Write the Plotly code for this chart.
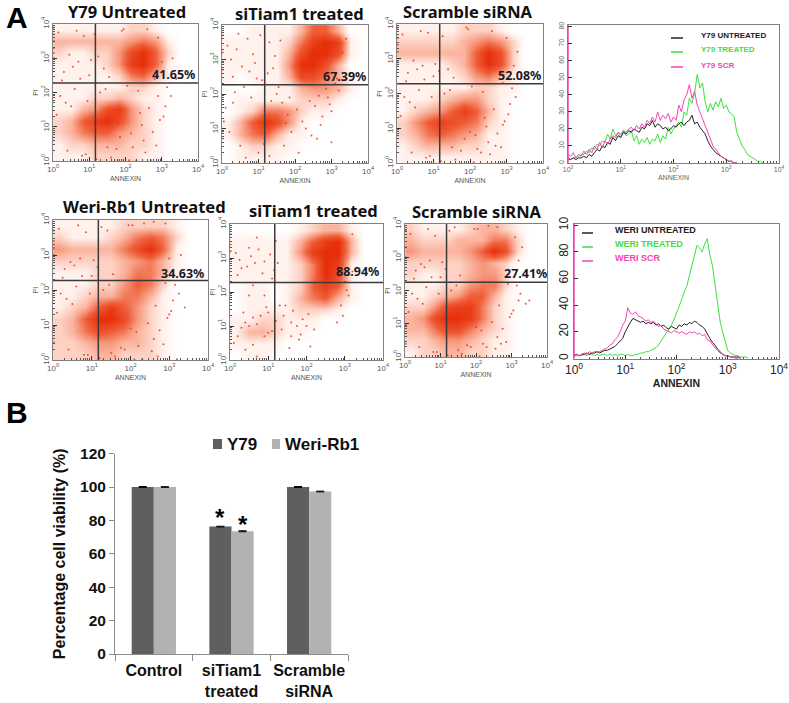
import math
import plotly.graph_objects as go

W, H = 789, 703

# density, rows top (PI 10^4) to bottom (PI 10^0), columns 1/3 decade wide
grid_centres = [0.17, 0.5, 0.83, 1.17, 1.5, 1.83, 2.17, 2.5, 2.83, 3.17, 3.5, 3.83]

y79_untreated = [
    [1, 1, 1, 1, 1, 1, 2, 2, 1, 0, 0, 0],
    [3, 3, 3, 3, 3, 3, 4, 5, 4, 1, 0, 0],
    [2, 1, 1, 2, 2, 4, 7, 9, 6, 2, 0, 0],
    [1, 1, 1, 1, 2, 4, 8, 9, 6, 1, 0, 0],
    [1, 1, 1, 1, 1, 2, 5, 6, 3, 1, 0, 0],
    [1, 1, 1, 1, 1, 1, 2, 2, 1, 0, 0, 0],
    [1, 1, 1, 2, 2, 3, 2, 1, 1, 0, 0, 0],
    [1, 1, 3, 4, 7, 8, 4, 2, 1, 0, 0, 0],
    [2, 3, 6, 8, 9, 7, 4, 2, 1, 0, 0, 0],
    [2, 3, 5, 6, 6, 4, 3, 2, 1, 0, 0, 0],
    [1, 2, 2, 3, 3, 3, 2, 2, 1, 0, 0, 0],
    [1, 1, 1, 2, 2, 2, 2, 1, 1, 0, 0, 0],
]
y79_sitiam = [
    [0, 0, 1, 1, 1, 1, 3, 6, 6, 3, 0, 0],
    [1, 1, 1, 1, 1, 2, 5, 8, 9, 8, 1, 0],
    [1, 1, 1, 1, 1, 3, 7, 9, 9, 7, 1, 0],
    [1, 1, 1, 1, 1, 4, 9, 9, 7, 3, 0, 0],
    [1, 0, 1, 1, 1, 3, 7, 7, 5, 3, 1, 0],
    [0, 0, 0, 1, 1, 1, 3, 4, 4, 3, 1, 0],
    [0, 1, 1, 1, 1, 1, 2, 2, 2, 1, 0, 0],
    [0, 1, 2, 5, 5, 4, 2, 1, 1, 0, 0, 0],
    [1, 3, 6, 9, 7, 4, 1, 0, 0, 0, 0, 0],
    [1, 3, 5, 6, 3, 1, 1, 0, 0, 0, 0, 0],
    [0, 1, 2, 2, 1, 1, 0, 0, 0, 0, 0, 0],
    [0, 1, 1, 1, 1, 0, 0, 0, 0, 0, 0, 0],
]
y79_scramble = [
    [1, 1, 1, 1, 1, 2, 2, 2, 1, 0, 0, 0],
    [2, 2, 2, 2, 2, 3, 4, 5, 4, 2, 0, 0],
    [3, 3, 3, 3, 3, 3, 6, 9, 7, 2, 0, 0],
    [1, 1, 1, 1, 2, 3, 6, 9, 7, 2, 0, 0],
    [1, 1, 1, 1, 1, 2, 4, 5, 3, 1, 0, 0],
    [1, 1, 1, 1, 1, 1, 2, 2, 1, 1, 0, 0],
    [1, 1, 1, 2, 3, 4, 4, 2, 1, 0, 0, 0],
    [1, 2, 3, 4, 6, 8, 6, 3, 1, 0, 0, 0],
    [2, 4, 6, 8, 7, 6, 5, 2, 1, 0, 0, 0],
    [2, 3, 5, 6, 5, 4, 3, 1, 1, 0, 0, 0],
    [1, 2, 3, 3, 3, 2, 2, 1, 1, 0, 0, 0],
    [1, 1, 1, 1, 1, 1, 1, 1, 1, 0, 0, 0],
]
weri_untreated = [
    [1, 1, 1, 1, 1, 2, 2, 2, 2, 1, 0, 0],
    [2, 1, 1, 1, 2, 3, 5, 6, 5, 2, 0, 0],
    [4, 3, 3, 3, 3, 5, 7, 9, 6, 1, 0, 0],
    [2, 2, 2, 2, 2, 3, 4, 5, 3, 1, 0, 0],
    [1, 1, 1, 2, 2, 3, 5, 5, 3, 1, 0, 0],
    [1, 1, 1, 2, 2, 4, 6, 5, 2, 0, 0, 0],
    [1, 1, 2, 3, 3, 5, 5, 3, 1, 0, 0, 0],
    [1, 2, 3, 6, 8, 6, 4, 2, 1, 0, 0, 0],
    [2, 3, 6, 9, 9, 7, 4, 2, 1, 0, 0, 0],
    [2, 3, 5, 7, 6, 5, 3, 2, 1, 0, 0, 0],
    [2, 2, 3, 4, 4, 3, 3, 2, 1, 0, 0, 0],
    [2, 2, 2, 3, 3, 2, 2, 2, 1, 0, 0, 0],
]
weri_sitiam = [
    [0, 0, 0, 0, 0, 1, 2, 3, 3, 1, 0, 0],
    [1, 1, 1, 1, 1, 3, 6, 8, 9, 3, 0, 0],
    [1, 1, 1, 1, 1, 4, 8, 9, 9, 3, 0, 0],
    [1, 1, 1, 1, 1, 2, 5, 9, 8, 1, 0, 0],
    [1, 1, 1, 1, 1, 2, 5, 9, 7, 1, 0, 0],
    [0, 1, 1, 0, 1, 2, 6, 8, 6, 1, 0, 0],
    [0, 1, 1, 0, 1, 3, 5, 6, 3, 1, 0, 0],
    [0, 1, 1, 1, 1, 2, 2, 2, 1, 0, 0, 0],
    [1, 1, 2, 2, 1, 1, 1, 0, 0, 0, 0, 0],
    [1, 3, 3, 2, 1, 1, 0, 0, 0, 0, 0, 0],
    [1, 1, 1, 1, 0, 0, 0, 0, 0, 0, 0, 0],
    [0, 1, 1, 0, 0, 0, 0, 0, 0, 0, 0, 0],
]
weri_scramble = [
    [2, 1, 1, 1, 1, 2, 3, 3, 2, 1, 0, 0],
    [3, 2, 2, 2, 3, 3, 3, 5, 5, 2, 0, 0],
    [4, 3, 3, 3, 3, 4, 6, 9, 7, 2, 0, 0],
    [2, 2, 2, 2, 2, 3, 4, 3, 2, 0, 0, 0],
    [2, 1, 1, 2, 2, 3, 4, 4, 2, 0, 0, 0],
    [1, 1, 1, 2, 2, 4, 5, 5, 2, 0, 0, 0],
    [1, 1, 2, 3, 4, 6, 6, 3, 1, 0, 0, 0],
    [2, 2, 4, 7, 8, 8, 5, 2, 1, 0, 0, 0],
    [3, 4, 7, 9, 9, 8, 5, 2, 1, 0, 0, 0],
    [3, 3, 5, 7, 7, 5, 3, 2, 1, 0, 0, 0],
    [2, 2, 3, 4, 4, 3, 2, 1, 1, 0, 0, 0],
    [1, 2, 2, 3, 3, 2, 2, 1, 1, 0, 0, 0],
]

# stray events, decades of annexin / PI
p1_dots_x = [0.02, 0.02, 0.02, 0.02, 0.02, 0.02, 0.3, 0.7, 1.0, 1.4, 1.9, 2.9, 3.0, 3.3, 2.8, 2.6, 0.4, 0.9, 1.6, 2.3, 2.1, 2.7, 0.2, 0.6, 1.3, 1.8, 2.4, 2.9, 3.1, 2.5, 2.2, 3.4,
             0.15, 0.45, 0.55, 0.85, 1.05, 1.25, 1.55, 0.25, 0.65, 0.75, 1.15, 0.35, 0.95, 1.45, 2.05, 2.35, 2.65, 3.05, 3.15, 2.75, 2.55, 1.75, 0.1, 0.5, 0.8, 1.2, 1.5, 1.85, 2.15, 2.45, 2.85, 3.25, 2.95, 1.95]
p1_dots_y = [3.9, 3.7, 3.5, 3.3, 3.15, 3.0, 2.6, 2.9, 2.5, 2.7, 3.8, 3.6, 2.9, 3.0, 2.4, 3.85, 0.3, 0.2, 0.1, 0.02, 0.02, 0.02, 1.9, 2.1, 2.0, 1.1, 1.4, 1.9, 1.6, 0.6, 0.4, 2.4,
             3.75, 3.1, 2.75, 3.65, 2.95, 3.05, 2.45, 2.35, 3.8, 2.4, 3.7, 1.7, 1.75, 2.1, 2.2, 2.05, 1.55, 1.3, 2.15, 0.85, 0.25, 0.35, 1.35, 1.6, 0.15, 0.05, 0.4, 0.7, 0.8, 1.05, 0.45, 1.9, 1.2, 3.85]
p2_dots_x = [0.02, 0.02, 0.02, 0.4, 0.7, 0.9, 1.3, 0.3, 0.6, 1.1, 1.5, 3.3, 3.5, 3.1, 2.9, 3.0, 2.7, 2.2, 1.9, 3.0, 2.6, 1.7, 0.2, 0.5, 1.0, 1.3, 2.4, 3.4, 1.8, 2.1,
             0.15, 0.25, 0.55, 0.85, 1.05, 1.25, 1.45, 0.35, 0.75, 0.95, 1.4, 0.45, 1.6, 1.65, 2.55, 2.75, 2.95, 3.2, 1.55, 2.05, 2.3, 0.1, 0.65, 1.15, 1.35, 1.85, 2.65, 2.85, 1.75, 3.15, 0.05, 2.45, 0.3, 0.8]
p2_dots_y = [3.7, 3.2, 2.7, 3.3, 3.6, 2.9, 3.5, 2.5, 2.2, 2.4, 2.0, 3.2, 2.6, 2.3, 1.9, 1.5, 1.1, 1.2, 0.9, 0.6, 0.7, 0.5, 0.9, 0.5, 0.3, 0.2, 1.8, 3.6, 1.4, 0.3,
             3.4, 3.0, 2.8, 3.15, 3.7, 2.6, 3.1, 2.05, 2.65, 2.45, 2.75, 3.75, 3.55, 1.75, 1.65, 1.35, 1.7, 2.1, 2.2, 1.55, 1.0, 1.6, 0.15, 0.55, 1.8, 1.9, 1.95, 2.15, 1.15, 2.45, 1.2, 0.8, 1.75, 1.9]
p3_dots_x = [0.02, 0.02, 0.02, 0.02, 0.02, 0.3, 0.7, 1.0, 1.4, 1.9, 3.0, 3.2, 3.3, 2.9, 2.6, 0.4, 0.9, 1.6, 2.3, 2.1, 2.7, 0.2, 0.6, 1.3, 2.9, 2.4, 3.1, 2.5, 2.2, 3.4, 2.0,
             0.15, 0.45, 0.55, 0.85, 1.05, 1.25, 1.55, 0.25, 0.65, 0.75, 1.15, 0.35, 0.95, 1.45, 2.05, 2.35, 2.65, 3.05, 3.15, 2.75, 2.55, 1.75, 0.1, 0.5, 0.8, 1.2, 1.5, 1.85, 2.15, 2.45, 2.85, 3.25, 2.95, 1.95]
p3_dots_y = [3.9, 3.6, 3.4, 3.2, 2.9, 2.6, 2.8, 2.5, 2.7, 3.9, 3.6, 2.8, 3.2, 2.3, 3.8, 0.3, 0.2, 0.1, 0.3, 0.02, 0.5, 1.9, 2.1, 2.0, 1.1, 1.3, 1.7, 0.6, 0.4, 2.5, 0.9,
             3.7, 2.95, 2.7, 3.75, 2.85, 3.65, 2.45, 2.35, 3.8, 2.4, 2.65, 1.75, 1.9, 2.1, 2.2, 2.05, 1.55, 1.4, 2.15, 0.85, 0.25, 0.35, 1.35, 1.6, 0.15, 0.05, 0.45, 0.7, 0.8, 1.05, 0.45, 1.9, 1.2, 3.85]
p5_dots_x = [0.02, 0.02, 0.02, 0.02, 0.02, 0.02, 0.3, 0.7, 1.0, 1.4, 2.9, 3.0, 3.3, 2.9, 2.6, 0.4, 0.9, 1.6, 2.3, 2.1, 2.7, 0.2, 0.6, 1.3, 3.0, 3.1, 2.6, 2.2, 3.4, 2.0, 3.2,
             0.15, 0.45, 0.55, 0.85, 1.05, 1.25, 1.55, 0.25, 0.65, 0.75, 1.15, 0.35, 0.95, 1.45, 2.05, 2.35, 2.65, 3.05, 3.15, 2.75, 2.55, 1.75, 0.1, 0.5, 0.8, 1.2, 1.5, 1.85, 2.15, 2.45, 2.85, 3.25, 2.95, 1.95]
p5_dots_y = [3.7, 3.4, 3.2, 3.0, 0.9, 0.5, 2.6, 2.9, 2.4, 3.7, 3.9, 2.9, 3.0, 2.2, 3.95, 0.3, 0.15, 0.1, 0.02, 0.02, 0.1, 1.9, 2.1, 2.0, 1.3, 1.7, 0.6, 0.4, 1.5, 0.9, 0.02,
             3.75, 2.8, 2.7, 3.65, 2.85, 3.8, 2.45, 2.35, 3.85, 2.4, 2.65, 1.75, 1.9, 2.15, 3.85, 3.9, 1.55, 1.4, 2.15, 0.85, 0.25, 0.35, 1.35, 1.6, 0.15, 0.05, 0.2, 0.3, 0.8, 1.05, 0.45, 1.9, 1.2, 3.85]
p6_dots_x = [0.02, 0.02, 0.02, 0.3, 0.5, 0.7, 0.9, 1.2, 0.2, 0.6, 1.1, 1.3, 0.9, 0.4, 0.7, 1.4, 1.6, 1.8, 3.1, 3.0, 3.2, 2.9, 2.8, 2.2, 1.9, 2.1, 1.6, 0.1, 0.5, 1.0, 3.2,
             0.15, 0.25, 0.45, 0.55, 0.65, 0.75, 0.85, 1.05, 1.15, 1.25, 0.35, 0.95, 0.4, 0.6, 0.8, 1.0, 1.2, 0.3, 0.5, 0.7, 0.9, 1.1, 0.2, 0.6, 1.35, 1.45, 1.55, 1.65, 1.75, 1.85, 2.0, 2.05, 2.95, 3.05]
p6_dots_y = [3.7, 3.4, 3.2, 2.7, 3.3, 3.6, 2.9, 3.5, 2.5, 2.2, 2.4, 1.6, 1.9, 0.3, 0.1, 1.3, 0.7, 0.6, 1.9, 2.3, 3.7, 1.6, 1.1, 0.9, 1.2, 0.4, 1.1, 0.5, 1.9, 0.8, 2.6,
             3.15, 2.95, 2.75, 3.05, 2.85, 3.25, 2.55, 3.1, 2.65, 2.85, 1.4, 1.55, 1.1, 1.25, 1.3, 1.4, 1.15, 0.95, 1.0, 1.05, 0.7, 0.85, 0.7, 0.45, 0.9, 1.6, 0.35, 1.45, 1.0, 0.75, 1.0, 1.35, 1.3, 2.05]
p7_dots_x = [0.02, 0.02, 0.02, 0.02, 0.02, 0.3, 0.7, 1.0, 1.4, 3.1, 3.2, 3.3, 2.9, 2.6, 0.4, 0.9, 1.6, 2.3, 2.1, 2.7, 0.2, 0.6, 1.3, 3.0, 3.2, 2.6, 2.2, 3.4, 2.0, 3.5,
             0.15, 0.45, 0.55, 0.85, 1.05, 1.25, 1.55, 0.25, 0.65, 0.75, 1.15, 0.35, 0.95, 1.45, 2.05, 2.35, 2.65, 3.05, 3.15, 2.75, 2.55, 1.75, 0.1, 0.5, 0.8, 1.2, 1.5, 1.85, 2.15, 2.45, 2.85, 3.25, 2.95, 1.95]
p7_dots_y = [3.8, 3.3, 3.0, 1.0, 0.4, 2.6, 2.9, 2.4, 3.9, 3.6, 2.9, 3.3, 2.2, 3.9, 0.3, 0.15, 0.1, 0.3, 0.02, 0.4, 1.9, 2.1, 2.0, 1.3, 1.7, 0.6, 0.4, 1.6, 0.9, 1.7,
             3.7, 2.8, 2.7, 3.65, 2.85, 3.8, 2.45, 2.35, 3.85, 2.4, 2.65, 1.75, 1.9, 2.15, 3.85, 3.95, 1.55, 1.4, 2.15, 0.85, 0.25, 0.35, 1.35, 1.6, 0.15, 0.05, 0.2, 0.3, 0.8, 1.05, 0.45, 1.9, 1.2, 3.85]

# histograms, one value per 0.05 decade starting at 10^0
y79_black = [3, 2, 3, 2, 3, 3, 4, 3, 5, 4, 6, 8, 7, 10, 9, 12, 11, 15, 13, 16, 15, 18, 17, 19, 18, 20, 19, 18, 21, 20,
             23, 22, 25, 21, 23, 22, 20, 21, 19, 20, 22, 21, 23, 24, 22, 24, 25, 28, 23, 24, 21, 19, 17, 13, 10, 8, 6, 5, 4, 3,
             2, 1, 1, 0, 0]
y79_green = [2, 2, 3, 3, 4, 5, 5, 7, 6, 9, 8, 11, 10, 13, 12, 17, 14, 20, 16, 18, 15, 19, 16, 17, 19, 13, 16, 11, 14, 12,
             15, 11, 14, 13, 17, 12, 16, 14, 21, 17, 20, 22, 24, 21, 30, 28, 38, 35, 41, 52, 44, 47, 36, 30, 35, 31, 36, 33, 38, 32,
             34, 30, 29, 27, 18, 14, 10, 8, 5, 4, 3, 2, 1, 1, 0]
y79_pink = [5, 4, 6, 3, 5, 4, 7, 5, 8, 6, 10, 8, 12, 9, 13, 11, 14, 16, 15, 18, 17, 19, 18, 20, 21, 19, 22, 20, 23, 21,
            25, 23, 27, 24, 30, 25, 28, 26, 29, 24, 27, 25, 34, 30, 37, 40, 46, 38, 42, 34, 30, 26, 22, 18, 14, 10, 8, 6, 4, 3,
            2, 1, 1, 0, 0]
weri_black = [2, 3, 2, 3, 3, 4, 3, 4, 4, 5, 4, 5, 6, 6, 7, 8, 9, 11, 13, 15, 20, 24, 27, 30, 29, 28, 27, 28, 26, 27,
              26, 27, 25, 26, 24, 25, 23, 22, 24, 23, 22, 25, 24, 26, 25, 27, 26, 28, 27, 25, 24, 22, 18, 15, 12, 10, 7, 5, 3, 2,
              2, 1, 1, 1, 1, 0]
weri_green = [2, 2, 2, 2, 3, 2, 3, 3, 2, 3, 2, 3, 3, 2, 3, 2, 3, 2, 3, 3, 2, 3, 2, 2, 3, 3, 4, 4, 5, 5,
              6, 7, 8, 10, 13, 15, 18, 21, 25, 29, 34, 38, 44, 50, 54, 62, 70, 78, 85, 83, 80, 86, 90, 78, 70, 56, 40, 28, 20, 12,
              6, 4, 3, 2, 2, 1, 1, 1, 0]
weri_pink = [3, 3, 2, 3, 4, 3, 5, 4, 5, 5, 5, 6, 7, 8, 10, 11, 14, 16, 20, 25, 28, 38, 34, 33, 35, 32, 31, 30, 28, 29,
             27, 28, 26, 24, 25, 22, 21, 20, 19, 21, 20, 19, 20, 19, 18, 20, 19, 20, 18, 19, 17, 18, 14, 13, 10, 8, 6, 4, 3, 2,
             2, 1, 1, 0, 0]

# bars
bar_categories = ["Control", "siTiam1<br>treated", "Scramble<br>siRNA"]
bar_y79 = [100, 76.3, 100]
bar_weri = [100, 73.5, 97.3]
bar_err = [0.3, 0.2, 0.3]
bar_err_weri = [0.2, 0.3, 0.2]

decade_labels = ["10<sup>0</sup>", "10<sup>1</sup>", "10<sup>2</sup>", "10<sup>3</sup>", "10<sup>4</sup>"]
minor_decades = [d + math.log10(m) for d in range(4) for m in range(2, 10)]
BLACK = "#222222"
GREEN = "#3fe03f"
PINK = "#f545b5"
DOT = "#e8300c"
BAR_DARK = "#5f5f5f"
BAR_LIGHT = "#b2b2b2"
LABEL_FONT = "Noto Sans"
ARIAL = "Liberation Sans"


def px(x):
    return x / W


def py(y):
    return 1 - y / H


def xdom(a, b):
    return [px(a), px(b)]


def ydom(top, bottom):
    return [py(bottom), py(top)]


fig = go.Figure()
annotations = []
shapes = []
layout = {}


def note(x, y, text, size, color="black", bold=True, family=LABEL_FONT, xanchor="center"):
    annotations.append(dict(x=px(x), y=py(y), xref="paper", yref="paper", text=text,
                            showarrow=False, xanchor=xanchor, yanchor="middle",
                            font=dict(size=size, color=color, family=family, weight=700 if bold else 400)))


def dot_panel(n, box, grid, dots_x, dots_y, cross, title, title_xy, pct, pct_xy):
    left, right, top, bottom = box
    ax = dict(range=[0, 4], automargin=False, showgrid=False, zeroline=False, showline=True, linecolor="#808080", linewidth=1, mirror=True,
              ticks="inside", ticklen=4, tickcolor="#333333", tickvals=[0, 1, 2, 3, 4], ticktext=decade_labels,
              tickfont=dict(size=8, color="#555555", family=ARIAL),
              minor=dict(tickvals=minor_decades, ticks="inside", ticklen=2, tickcolor="#555555"))
    layout["xaxis%d" % n] = dict(ax, domain=xdom(left, right), anchor="y%d" % n,
                                 title=dict(text="ANNEXIN", standoff=3, font=dict(size=7, color="#555555", family=ARIAL)))
    layout["yaxis%d" % n] = dict(ax, domain=ydom(top, bottom), anchor="x%d" % n, tickangle=-90,
                                 title=dict(text="PI", standoff=0, font=dict(size=7, color="#555555", family=ARIAL)))
    fig.add_trace(go.Heatmap(x=grid_centres, y=grid_centres, z=grid[::-1], zmin=0, zmax=9, zsmooth="best", showscale=False,
                             hoverinfo="skip", xaxis="x%d" % n, yaxis="y%d" % n,
                             colorscale=[[0, "#ffffff"], [0.11, "#fff1ec"], [0.33, "#fbb5a0"], [0.66, "#ef5e38"], [1, "#e62e0a"]]))
    fig.add_trace(go.Scatter(x=dots_x, y=dots_y, mode="markers", marker=dict(size=2, color=DOT, opacity=0.8),
                             xaxis="x%d" % n, yaxis="y%d" % n, showlegend=False, cliponaxis=True))
    fig.add_trace(go.Scatter(x=[cross[0], cross[0], None, 0, 4], y=[0, 4, None, cross[1], cross[1]], mode="lines",
                             line=dict(color="#3a3a3a", width=1.5), xaxis="x%d" % n, yaxis="y%d" % n, showlegend=False))
    note(title_xy[0], title_xy[1], title, 16.5, color="#111111")
    note(pct_xy[0], pct_xy[1], pct, 12.5, color="#1a1a2a", xanchor="right")


dot_panel(1, (53, 198, 24, 161), y79_untreated, p1_dots_x, p1_dots_y, (1.17, 2.28), "Y79 Untreated", (127, 12), "41.65%", (197, 74))
dot_panel(2, (222, 368, 25, 163), y79_sitiam, p2_dots_x, p2_dots_y, (1.17, 2.27), "siTiam1 treated", (299, 13), "67.39%", (368, 76))
dot_panel(3, (397, 543, 24, 163), y79_scramble, p3_dots_x, p3_dots_y, (1.17, 2.28), "Scramble siRNA", (468, 12), "52.08%", (543, 75))
dot_panel(5, (53, 208, 220, 360), weri_untreated, p5_dots_x, p5_dots_y, (1.17, 2.27), "Weri-Rb1 Untreated", (144, 207), "34.63%", (206, 273))
dot_panel(6, (230, 383, 224, 360), weri_sitiam, p6_dots_x, p6_dots_y, (1.17, 2.28), "siTiam1 treated", (313, 211), "88.94%", (381, 271))
dot_panel(7, (405, 547, 224, 357), weri_scramble, p7_dots_x, p7_dots_y, (1.17, 2.25), "Scramble siRNA", (477, 212), "27.41%", (549, 273))


def hist_panel(n, box, series, yrange, yticks, yticktext, tick_font, title_font, title_text, standoff):
    left, right, top, bottom = box
    base = dict(automargin=False, showgrid=False, zeroline=False, showline=True, linecolor="#808080", linewidth=1, mirror=True,
                ticks="inside", ticklen=4, tickcolor="#333333", tickfont=tick_font)
    layout["xaxis%d" % n] = dict(base, domain=xdom(left, right), anchor="y%d" % n, range=[0, 4], tickvals=[0, 1, 2, 3, 4],
                                 ticktext=decade_labels,
                                 minor=dict(tickvals=minor_decades, ticks="inside", ticklen=2, tickcolor="#555555"),
                                 title=dict(text=title_text, standoff=standoff, font=title_font))
    layout["yaxis%d" % n] = dict(base, domain=ydom(top, bottom), anchor="x%d" % n, range=yrange, tickvals=yticks,
                                 ticktext=yticktext, tickangle=-90)
    for values, color in series:
        fig.add_trace(go.Scatter(x=[i * 0.05 for i in range(len(values))], y=values, mode="lines", line=dict(color=color, width=1),
                                 xaxis="x%d" % n, yaxis="y%d" % n, showlegend=False))
    # event pile on the left edge
    fig.add_trace(go.Scatter(x=[0, 0], y=[0, yrange[1]], mode="lines", line=dict(color=PINK, width=1.5),
                             xaxis="x%d" % n, yaxis="y%d" % n, showlegend=False))


hist_panel(4, (568, 779, 25, 163), [(y79_green, GREEN), (y79_black, BLACK), (y79_pink, PINK)], [0, 81],
           [0, 10, 20, 30, 40, 50, 60, 70, 80], ["0", "10", "20", "30", "40", "50", "60", "70", "80"],
           dict(size=7, color="#666666", family=ARIAL), dict(size=7, color="#666666", family=ARIAL), "ANNEXIN", 2)
hist_panel(8, (574, 779, 224, 359), [(weri_green, GREEN), (weri_black, BLACK), (weri_pink, PINK)], [-0.5, 101],
           [0, 20, 40, 60, 80, 100], ["0", "20", "40", "60", "80", "10"],
           dict(size=12, color="#222222", family=ARIAL), dict(size=10.5, color="#222222", family=ARIAL, weight=700), "ANNEXIN", 0)

# hand-made legends of the two histogram panels
for x0, x1, y, tx, ty, text, color, size in [
    (671, 683, 38, 699, 36, "Y79 UNTREATED", BLACK, 8),
    (671, 683, 52, 699, 50, "Y79 TREATED", GREEN, 8),
    (671, 683, 67, 699, 65, "Y79 SCR", PINK, 8),
    (582, 593, 233, 613, 230, "WERI UNTREATED", BLACK, 9),
    (582, 593, 247, 613, 244, "WERI TREATED", GREEN, 9),
    (582, 593, 261, 613, 258, "WERI SCR", PINK, 9),
]:
    shapes.append(dict(type="line", xref="paper", yref="paper", x0=px(x0), x1=px(x1), y0=py(y), y1=py(y),
                       line=dict(color=color, width=1.5)))
    note(tx, ty, text, size, color=color, family=ARIAL, xanchor="left")

# panel B
fig.add_trace(go.Bar(x=[0, 1, 2], y=bar_y79, name="Y79", marker=dict(color=BAR_DARK, line=dict(width=0)), showlegend=False,
                     error_y=dict(type="data", array=bar_err, color="black", thickness=1, width=4), xaxis="x9", yaxis="y9"))
fig.add_trace(go.Bar(x=[0, 1, 2], y=bar_weri, name="Weri-Rb1", marker=dict(color=BAR_LIGHT, line=dict(width=0)), showlegend=False,
                     error_y=dict(type="data", array=bar_err_weri, color="black", thickness=1, width=4), xaxis="x9", yaxis="y9"))
layout["xaxis9"] = dict(domain=xdom(115, 348), anchor="y9", automargin=False, range=[-0.5, 2.5], tickvals=[0, 1, 2], ticktext=bar_categories,
                        ticks="", ticklabelstandoff=2, showgrid=False, zeroline=False, showline=True, linecolor="#8c8c8c",
                        tickfont=dict(size=16, color="#111111", family=ARIAL, weight=700),
                        minor=dict(tickvals=[-0.5, 0.5, 1.5, 2.5], ticks="outside", ticklen=6, tickcolor="#8c8c8c"))
layout["yaxis9"] = dict(domain=ydom(453.6, 654), anchor="x9", automargin=False, range=[0, 120], tickvals=[0, 20, 40, 60, 80, 100, 120],
                        ticks="outside", ticklen=5, tickcolor="#8c8c8c", showgrid=False, zeroline=False, showline=True,
                        linecolor="#8c8c8c", tickfont=dict(size=15.5, color="#111111", family=ARIAL, weight=700),
                        title=dict(text="Percentage cell viability (%)", standoff=10,
                                   font=dict(size=16, color="#111111", family=ARIAL, weight=700)))
for x, y in [(1 - 0.145, 81.5), (1 + 0.145, 77.5)]:
    annotations.append(dict(x=x, y=y, xref="x9", yref="y9", text="*", showarrow=False, yanchor="middle",
                            font=dict(size=24, color="black", family=ARIAL, weight=700)))

# legend of panel B, swatches sit closer to the text than plotly's own legend allows
for x0, x1, color, tx, text in [(213, 222, BAR_DARK, 225, "Y79"), (272, 280, BAR_LIGHT, 283, "Weri-Rb1")]:
    shapes.append(dict(type="rect", xref="paper", yref="paper", x0=px(x0), x1=px(x1), y0=py(449), y1=py(439),
                       fillcolor=color, line=dict(width=0)))
    note(tx, 444, text, 17, color="#111111", family=ARIAL, xanchor="left")

note(4, 18, "A", 30, family=ARIAL, xanchor="left")
note(4, 412, "B", 30, family=ARIAL, xanchor="left")

fig.update_layout(width=W, height=H, margin=dict(l=0, r=0, t=0, b=0), paper_bgcolor="white", plot_bgcolor="white",
                  barmode="group", bargap=0.43, bargroupgap=0, annotations=annotations, shapes=shapes, showlegend=False, **layout)
fig.write_html("out.html", config={"displayModeBar": False}, post_script="document.body.style.margin='0';")
